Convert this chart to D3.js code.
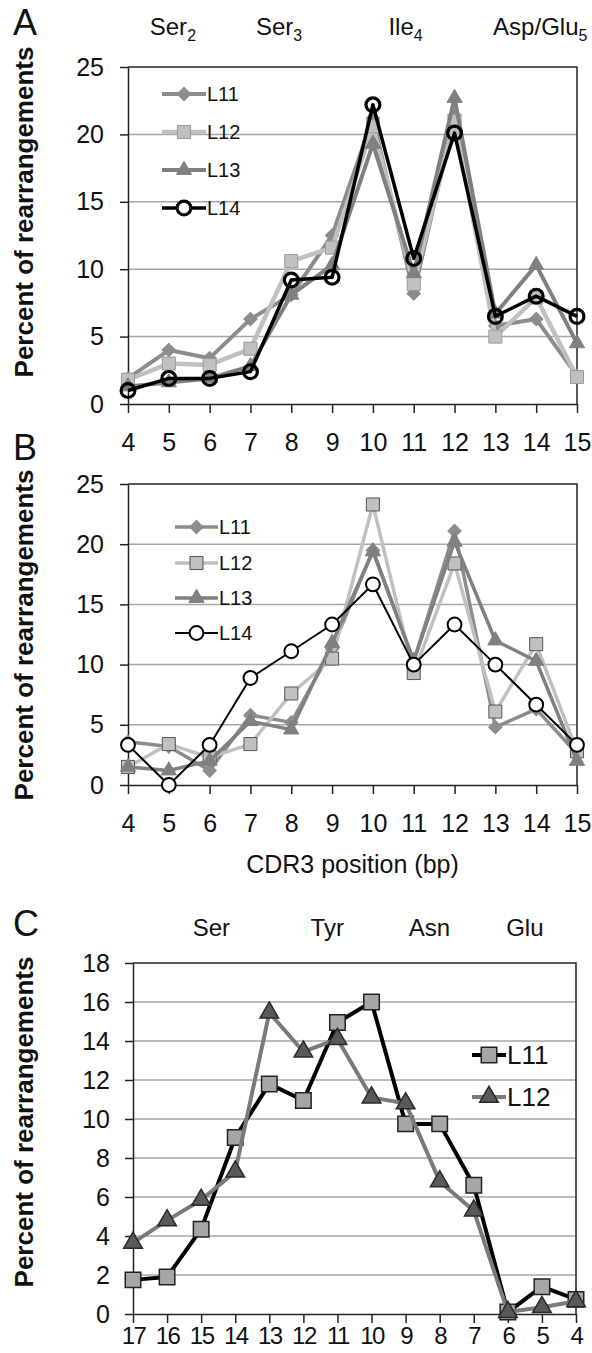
<!DOCTYPE html>
<html>
<head>
<meta charset="utf-8">
<script src="https://cdn.jsdelivr.net/npm/d3@7"></script>
<style>
body { margin: 0; background: #fff; }
svg { display: block; font-family: "Liberation Sans", Arial, sans-serif; }
</style>
</head>
<body>
<div id="chart"></div>
<script>
// CDR3 positions, panels A and B
var positionsAB = [4, 5, 6, 7, 8, 9, 10, 11, 12, 13, 14, 15];
var aL11 = [1.9, 4.0, 3.4, 6.3, 8.1, 12.5, 21.2, 8.2, 21.4, 5.8, 6.3, 2.1];
var aL12 = [1.8, 3.0, 2.9, 4.1, 10.6, 11.6, 20.6, 8.9, 21.0, 5.0, 7.9, 2.0];
var aL13 = [1.3, 1.6, 1.9, 2.8, 8.1, 10.3, 19.3, 9.7, 22.7, 6.7, 10.3, 4.5];
var aL14 = [1.0, 1.9, 1.9, 2.4, 9.2, 9.4, 22.2, 10.8, 20.1, 6.5, 8.0, 6.5];

var bL11 = [3.6, 3.2, 1.2, 5.8, 5.2, 11.3, 19.5, 10.3, 21.1, 4.8, 6.3, 2.6];
var bL12 = [1.5, 3.4, 2.3, 3.4, 7.6, 10.5, 23.3, 9.3, 18.4, 6.1, 11.7, 2.8];
var bL13 = [1.5, 1.2, 2.0, 5.3, 4.6, 11.8, 19.4, 10.3, 20.2, 12.0, 10.3, 2.0];
var bL14 = [3.33, 0, 3.33, 8.89, 11.11, 13.33, 16.67, 10.0, 13.33, 10.0, 6.67, 3.33];

// panel C runs backwards
var positionsC = [17, 16, 15, 14, 13, 12, 11, 10, 9, 8, 7, 6, 5, 4];
var cL11 = [1.75, 1.9, 4.35, 9.05, 11.8, 10.95, 14.95, 16.0, 9.75, 9.75, 6.6, 0.1, 1.4, 0.75];
var cL12 = [3.65, 4.8, 5.85, 7.3, 15.45, 13.45, 14.1, 11.1, 10.8, 6.8, 5.3, 0.1, 0.35, 0.65];

var yTicksAB = [0, 5, 10, 15, 20, 25];
var yTicksC = [0, 2, 4, 6, 8, 10, 12, 14, 16, 18];

var aminoA = ["Ser", "Ser", "Ile", "Asp/Glu"];
var aminoASub = ["2", "3", "4", "5"];
var aminoAAt = [5.1, 7.7, 10.8, 14.1];
var aminoC = ["Ser", "Tyr", "Asn", "Glu"];
var aminoCAt = [14.7, 11.3, 8.3, 5.5];

var W = 592, H = 1353;
var svg = d3.select("#chart").append("svg").attr("width", W).attr("height", H);
svg.append("rect").attr("width", W).attr("height", H).attr("fill", "#fff");

function markerPath(shape, size) {
    if (shape == "diamond" || shape == "square") return d3.symbol().type(d3.symbolSquare).size(size)();
    if (shape == "triangle") return d3.symbol().type(d3.symbolTriangle).size(size)();
    return d3.symbol().type(d3.symbolCircle).size(size)();
}
function markerTransform(shape, px, py) {
    return "translate(" + px + "," + py + ")" + (shape == "diamond" ? " rotate(45)" : "");
}

function drawPanel(p) {
    var x = d3.scaleLinear().domain(p.xDomain).range([p.left, p.right]);
    var y = d3.scaleLinear().domain([0, p.yMax]).range([p.bottom, p.top]);
    var g = svg.append("g");

    // gridlines
    g.selectAll(".grid").data(p.yTicks.filter(function (t) { return t > 0 && t < p.yMax; }))
        .enter().append("line")
        .attr("x1", p.left).attr("x2", p.right)
        .attr("y1", function (d) { return y(d); }).attr("y2", function (d) { return y(d); })
        .attr("stroke", "#a6a6a6").attr("stroke-width", 1.5);

    // frame top + right
    g.append("path")
        .attr("d", "M" + p.left + "," + y(p.yMax) + "H" + p.right + "V" + p.bottom)
        .attr("fill", "none").attr("stroke", "#222").attr("stroke-width", 1.5);

    var yAxis = g.append("g").attr("transform", "translate(" + p.left + ",0)")
        .call(d3.axisLeft(y).tickValues(p.yTicks).tickSize(8).tickSizeOuter(0).tickPadding(p.yPad));
    yAxis.selectAll("text").attr("font-size", 25).attr("fill", "#111")
        .style("font-family", "'Liberation Sans', Arial, sans-serif");

    var xAxis = g.append("g").attr("transform", "translate(0," + p.bottom + ")")
        .call(d3.axisBottom(x).tickValues(p.xVals).tickFormat(d3.format("d"))
            .tickSize(9).tickSizeOuter(0).tickPadding(p.xPad));
    xAxis.selectAll("text").attr("font-size", p.xFont).attr("fill", "#111")
        .attr("letter-spacing", p.xSpacing)
        .style("font-family", "'Liberation Sans', Arial, sans-serif");
    [yAxis, xAxis].forEach(function (a) {
        a.select(".domain").attr("stroke", "#222").attr("stroke-width", 1.5);
        a.selectAll(".tick line").attr("stroke", "#222").attr("stroke-width", 1.5);
    });

    // series
    p.series.forEach(function (s) {
        var pts = p.xVals.map(function (v, i) { return [x(v), y(s.values[i])]; });
        g.append("path").datum(pts)
            .attr("d", d3.line())
            .attr("fill", "none").attr("stroke", s.line).attr("stroke-width", s.lineWidth)
            .attr("stroke-linejoin", "round");
        g.selectAll(null).data(pts).enter().append("path")
            .attr("d", markerPath(s.shape, s.size))
            .attr("transform", function (d) { return markerTransform(s.shape, d[0], d[1]); })
            .attr("fill", s.fill).attr("stroke", s.stroke).attr("stroke-width", s.strokeWidth);
    });

    // legend
    p.series.forEach(function (s, i) {
        var ly = p.legend.y[i];
        var lg = g.append("g");
        lg.append("line").attr("x1", p.legend.x0).attr("x2", p.legend.x1)
            .attr("y1", ly).attr("y2", ly)
            .attr("stroke", s.line).attr("stroke-width", s.lineWidth);
        lg.append("path").attr("d", markerPath(s.shape, s.size))
            .attr("transform", markerTransform(s.shape, (p.legend.x0 + p.legend.x1) / 2, ly))
            .attr("fill", s.fill == "none" ? "#fff" : s.fill)
            .attr("stroke", s.stroke).attr("stroke-width", s.strokeWidth);
        lg.append("text").attr("x", p.legend.x1 + 1).attr("y", ly).attr("dy", "0.35em")
            .attr("font-size", p.legend.font).attr("fill", "#111").text(s.name);
    });

    // axis title
    svg.append("text")
        .attr("transform", "translate(33," + p.titleY + ") rotate(-90)")
        .attr("text-anchor", "middle").attr("font-size", 26).attr("font-weight", "bold")
        .attr("fill", "#111").text("Percent of rearrangements");

    // panel letter
    svg.append("text").attr("x", 13).attr("y", p.letterY).attr("font-size", 36)
        .attr("fill", "#111").text(p.letter);

    // amino acid labels
    if (p.amino) {
        p.amino.forEach(function (a, i) {
            var t = svg.append("text").attr("x", x(p.aminoAt[i])).attr("y", p.aminoY)
                .attr("text-anchor", "middle").attr("font-size", 24).attr("fill", "#111");
            t.append("tspan").text(a);
            if (p.aminoSub) {
                t.append("tspan").attr("dy", 6).attr("font-size", 16).text(p.aminoSub[i]);
            }
        });
    }
    return { x: x, y: y };
}

var grey11 = "#8c8c8c", grey12 = "#c0c0c0", grey13 = "#808080";

drawPanel({
    letter: "A", letterY: 35,
    xDomain: [4, 15], xVals: positionsAB, left: 128, right: 577,
    yMax: 25, yTicks: yTicksAB, top: 67, bottom: 404,
    yPad: 16, xPad: 20, xFont: 25, xSpacing: 0, titleY: 212,
    amino: aminoA, aminoSub: aminoASub, aminoAt: aminoAAt, aminoY: 35,
    legend: { x0: 162, x1: 206, y: [94, 132, 170, 208], font: 20 },
    series: [
        { name: "L11", values: aL11, line: grey11, lineWidth: 4, shape: "diamond", size: 90, fill: grey11, stroke: grey11, strokeWidth: 1 },
        { name: "L12", values: aL12, line: grey12, lineWidth: 4.5, shape: "square", size: 170, fill: grey12, stroke: "#9a9a9a", strokeWidth: 1 },
        { name: "L13", values: aL13, line: grey13, lineWidth: 4, shape: "triangle", size: 100, fill: grey13, stroke: grey13, strokeWidth: 1 },
        { name: "L14", values: aL14, line: "#000", lineWidth: 3.5, shape: "circle", size: 150, fill: "none", stroke: "#000", strokeWidth: 3.2 }
    ]
});

drawPanel({
    letter: "B", letterY: 460,
    xDomain: [4, 15], xVals: positionsAB, left: 128, right: 577,
    yMax: 25, yTicks: yTicksAB, top: 484, bottom: 785,
    yPad: 16, xPad: 20, xFont: 25, xSpacing: 0, titleY: 635,
    legend: { x0: 175, x1: 218, y: [527, 563, 598, 633], font: 20 },
    series: [
        { name: "L11", values: bL11, line: grey11, lineWidth: 3.5, shape: "diamond", size: 90, fill: grey11, stroke: grey11, strokeWidth: 1 },
        { name: "L12", values: bL12, line: grey12, lineWidth: 3.5, shape: "square", size: 170, fill: grey12, stroke: "#555", strokeWidth: 1 },
        { name: "L13", values: bL13, line: grey13, lineWidth: 3.5, shape: "triangle", size: 100, fill: grey13, stroke: grey13, strokeWidth: 1 },
        { name: "L14", values: bL14, line: "#000", lineWidth: 2, shape: "circle", size: 150, fill: "#fff", stroke: "#000", strokeWidth: 2 }
    ]
});

// x axis title under panel B
svg.append("text").attr("x", (128 + 577) / 2).attr("y", 873).attr("text-anchor", "middle")
    .attr("font-size", 25).attr("fill", "#111").text("CDR3 position (bp)");

drawPanel({
    letter: "C", letterY: 936,
    xDomain: [17, 4], xVals: positionsC, left: 133, right: 576,
    yMax: 18, yTicks: yTicksC, top: 963, bottom: 1314,
    yPad: 15, xPad: 4, xFont: 24, xSpacing: -1.5, titleY: 1122,
    amino: aminoC, aminoAt: aminoCAt, aminoY: 936,
    legend: { x0: 472, x1: 506, y: [1055, 1097], font: 26 },
    series: [
        { name: "L11", values: cL11, line: "#000", lineWidth: 4, shape: "square", size: 240, fill: "#a6a6a6", stroke: "#222", strokeWidth: 1.5 },
        { name: "L12", values: cL12, line: "#7a7a7a", lineWidth: 4, shape: "triangle", size: 150, fill: "#595959", stroke: "#2a2a2a", strokeWidth: 1.5 }
    ]
});
</script>
</body>
</html>
